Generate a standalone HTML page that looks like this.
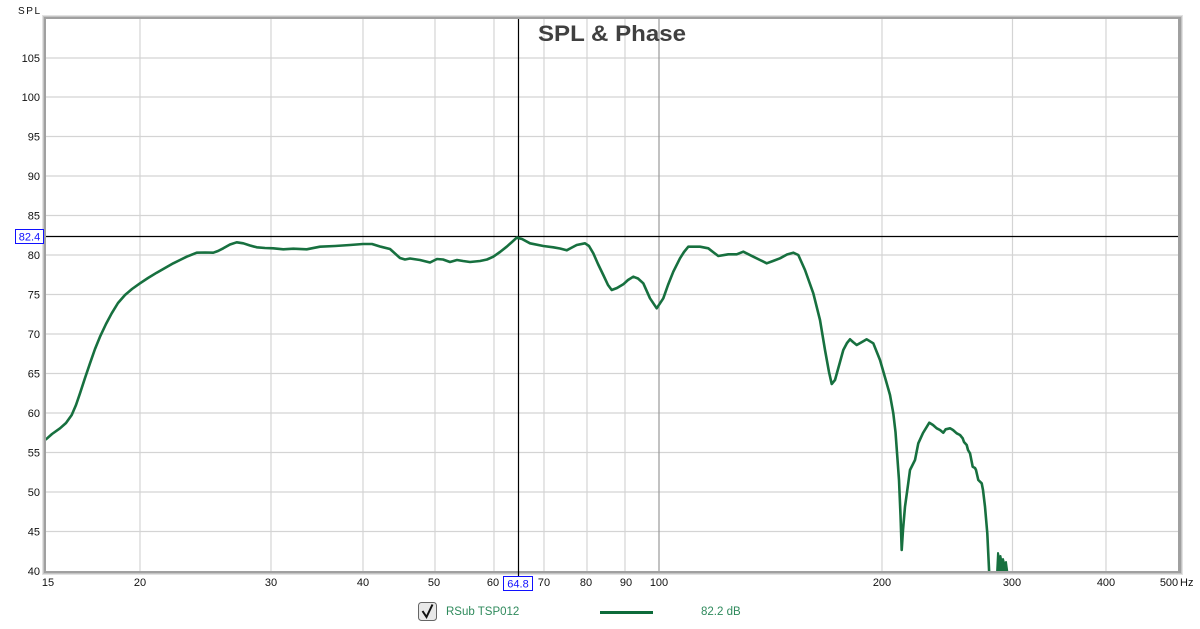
<!DOCTYPE html>
<html><head><meta charset="utf-8"><style>
html,body{margin:0;padding:0;background:#fff;}
svg{display:block;}
text{font-family:"Liberation Sans",Arial,sans-serif;}
</style></head><body>
<svg width="1200" height="629" viewBox="0 0 1200 629" xmlns="http://www.w3.org/2000/svg">
<defs><clipPath id="pc"><rect x="46" y="19" width="1132" height="552"/></clipPath></defs>
<rect width="1200" height="629" fill="#fff"/>
<!-- frame -->
<rect x="42" y="15" width="1141" height="560" fill="#e2e2e2"/>
<rect x="43" y="16" width="1139" height="558" fill="#c4c4c4"/>
<rect x="44" y="17" width="1137" height="556" fill="#a0a0a0"/>
<rect x="46" y="19" width="1132" height="552" fill="#fff"/>
<!-- horizontal grid -->
<g stroke="#d4d4d4" stroke-width="1.2">
<line x1="46" x2="1178" y1="531.5" y2="531.5"/>
<line x1="46" x2="1178" y1="492" y2="492"/>
<line x1="46" x2="1178" y1="452.5" y2="452.5"/>
<line x1="46" x2="1178" y1="413" y2="413"/>
<line x1="46" x2="1178" y1="373.5" y2="373.5"/>
<line x1="46" x2="1178" y1="334" y2="334"/>
<line x1="46" x2="1178" y1="294.5" y2="294.5"/>
<line x1="46" x2="1178" y1="255" y2="255"/>
<line x1="46" x2="1178" y1="215.5" y2="215.5"/>
<line x1="46" x2="1178" y1="176" y2="176"/>
<line x1="46" x2="1178" y1="136.5" y2="136.5"/>
<line x1="46" x2="1178" y1="97" y2="97"/>
<line x1="46" x2="1178" y1="58" y2="58"/>
</g>
<!-- vertical grid -->
<g stroke="#d4d4d4" stroke-width="1.2">
<line y1="19" y2="571" x1="140" x2="140"/>
<line y1="19" y2="571" x1="271" x2="271"/>
<line y1="19" y2="571" x1="363" x2="363"/>
<line y1="19" y2="571" x1="435" x2="435"/>
<line y1="19" y2="571" x1="494" x2="494"/>
<line y1="19" y2="571" x1="544" x2="544"/>
<line y1="19" y2="571" x1="587" x2="587"/>
<line y1="19" y2="571" x1="625" x2="625"/>
<line y1="19" y2="571" x1="882" x2="882"/>
<line y1="19" y2="571" x1="1012.5" x2="1012.5"/>
<line y1="19" y2="571" x1="1106" x2="1106"/>
</g>
<line y1="19" y2="571" x1="659" x2="659" stroke="#9a9a9a" stroke-width="1.2"/>
<!-- title -->
<text x="538" y="41" font-size="22" font-weight="bold" fill="#404040" textLength="148" lengthAdjust="spacingAndGlyphs">SPL &amp; Phase</text>
<!-- crosshair -->
<line x1="46" x2="1178" y1="236.5" y2="236.5" stroke="#000" stroke-width="1.2"/>
<line x1="518.5" x2="518.5" y1="19" y2="576" stroke="#000" stroke-width="1.2"/>
<!-- curve -->
<g clip-path="url(#pc)">
<polyline fill="none" stroke="#17703f" stroke-width="2.6" stroke-linejoin="round" stroke-linecap="round" points="
46,439.3 52,434 60,428.3 66,423 71.7,415 76,405 80,393.3 85,378 90,363.3 95,349 100,336.7 106,324 111.7,313.3 118,303 125,295 132,289 140,283.3 148,278 156.7,272.7 165,268 173.3,263.3 180,260 186.7,256.7 196.7,252.7 205,252.5 213.3,252.7 218,251 223.3,248.3 230,244.5 236.7,242.3 243.3,243.3 250,245.5 256.7,247.3 265,248 273.3,248.3 283.3,249.3 293.3,248.7 306.7,249.3 320,246.7 335,246 350,245 363,244 372,244 380,246.5 390,249 400,258 405,259.5 410,258.5 420,260 430,262.5 437,259 443,259.5 450,262 457,260 463,261 470,262 480,261 487,259.5 493.3,256.7 500,252 506.7,246.7 512,242 516.7,237.7 522,239 530,243.3 543.3,246 553.3,247.3 560,248.5 566.7,250.3 571,248 576.7,245 585,243.3 589,246 593.3,253.3 598,264 603.3,275 608,285 611.7,290 617,288 623.3,284.3 628,280 633.3,276.7 638,278.5 643.3,283.3 650,298.3 656.7,308.3 663.3,298.3 668,285 673.3,271.7 680,258.3 684,252 688.3,246.7 700,246.7 708.3,248.3 713,252 718.3,256 728.3,254.3 736.7,254.3 743.3,251.7 753.3,256.7 760,260 766.7,263.3 773,261 780,258.3 787,254.5 793.3,252.7 798.3,255 805,270 813.3,293.3 820,320 825,350 829,372 831.7,384 835,380 840,362 843.3,350 847,343 850,339.3 853,342 856.7,345 862,342 866.7,339.3 873.3,343.3 880,360 886.7,383.3 890,395 893.3,413.3 895.5,432 897.3,456.7 899,480 900.5,515 901.7,550 903,530 905,506.7 908,485 910,470 912,466 915,460 918.3,443.3 923,433 929.3,422.7 933,425 936.7,428.3 940,430 943.3,432.7 945.7,429.3 950,428.3 953,430 956.7,433.3 960,435 962.7,438.3 964,442 966.7,445 968,450 970,453.3 972.7,466.7 975,468 976,470 978.3,480 981.7,483.3 983,490 985,506.7 987.3,533.3 989.3,575"/>
<polyline fill="#17703f" stroke="#17703f" stroke-width="2" stroke-linejoin="round" points="997,573 998,553 999.5,560 1000.5,556 1002,564 1003,559 1005,566 1006,562 1007.5,573"/>
</g>
<!-- y axis labels -->
<g font-size="11" fill="#111" text-anchor="end">
<text x="40" y="62">105</text>
<text x="40" y="101">100</text>
<text x="40" y="140.5">95</text>
<text x="40" y="180">90</text>
<text x="40" y="219.5">85</text>
<text x="40" y="259">80</text>
<text x="40" y="298.5">75</text>
<text x="40" y="338">70</text>
<text x="40" y="377.5">65</text>
<text x="40" y="417">60</text>
<text x="40" y="456.5">55</text>
<text x="40" y="496">50</text>
<text x="40" y="535.5">45</text>
<text x="40" y="575">40</text>
</g>
<text x="18" y="14" font-size="10" fill="#111" textLength="22" lengthAdjust="spacing">SPL</text>
<!-- 82.4 box -->
<rect x="15.5" y="229.5" width="28" height="14" fill="#fff" stroke="#1010ff" stroke-width="1"/>
<text x="29.5" y="240.5" font-size="11" fill="#1010ff" text-anchor="middle">82.4</text>
<!-- x axis labels -->
<g font-size="11" fill="#111" text-anchor="middle">
<text x="48" y="586">15</text>
<text x="140" y="586">20</text>
<text x="271" y="586">30</text>
<text x="363" y="586">40</text>
<text x="434" y="586">50</text>
<text x="493" y="586">60</text>
<text x="544" y="586">70</text>
<text x="586" y="586">80</text>
<text x="626" y="586">90</text>
<text x="659" y="586">100</text>
<text x="882" y="586">200</text>
<text x="1012" y="586">300</text>
<text x="1106" y="586">400</text>
<text x="1169" y="586">500</text>
</g>
<text x="1180" y="586" font-size="11" fill="#111">Hz</text>
<rect x="503.5" y="576.5" width="29" height="14" fill="#fff" stroke="#1010ff" stroke-width="1"/>
<text x="518" y="587.5" font-size="11" fill="#1010ff" text-anchor="middle">64.8</text>
<!-- legend -->
<rect x="418.5" y="602.5" width="18" height="18" rx="3" fill="#e8e8e8" stroke="#666" stroke-width="1"/>
<path d="M422.5,611 L426.5,617 L432.5,604.5" fill="none" stroke="#111" stroke-width="2"/>
<text x="446" y="615" font-size="11.5" fill="#2f8a5c">RSub TSP012</text>
<line x1="600" x2="653" y1="612.5" y2="612.5" stroke="#0d6b3a" stroke-width="3"/>
<text x="701" y="615" font-size="11.5" fill="#2f8a5c">82.2 dB</text>
</svg>
</body></html>
